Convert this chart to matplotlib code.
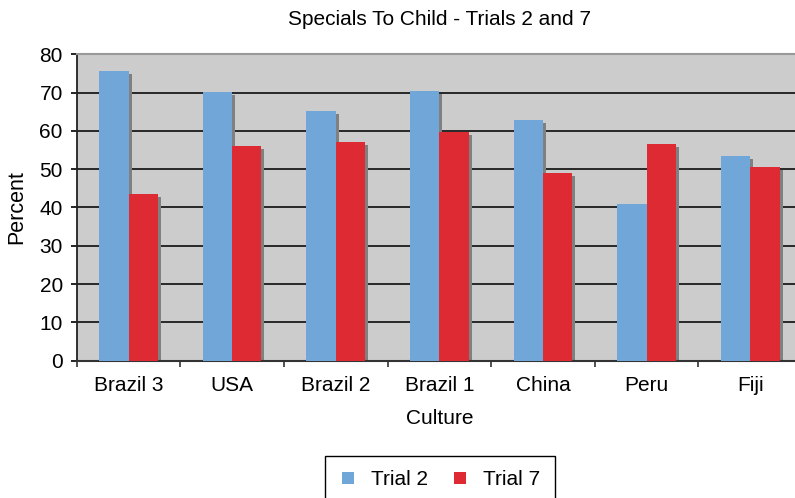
import matplotlib
matplotlib.use("Agg")
import matplotlib.pyplot as plt
import matplotlib.transforms as mtransforms
from matplotlib.lines import Line2D
import numpy as np

categories = ["Brazil 3", "USA", "Brazil 2", "Brazil 1", "China", "Peru", "Fiji"]
trial2 = [75.6, 70.1, 65.2, 70.4, 62.8, 40.9, 53.4]
trial7 = [43.5, 56.0, 57.1, 59.8, 49.0, 56.6, 50.6]
series_names = ["Trial 2", "Trial 7"]
yticks = [0, 10, 20, 30, 40, 50, 60, 70, 80]

plt.rcParams['font.family'] = ['Liberation Sans', 'DejaVu Sans']

W, H = 795, 498
fig = plt.figure(figsize=(W / 100, H / 100), dpi=100)
ax = fig.add_axes([76.7 / W, 1 - 360.7 / H, (802 - 76.7) / W, (360.7 - 54.3) / H])

blue = "#71A6D8"
red = "#DE2A32"
shadow = "#808080"
bw = 0.283
x = np.arange(len(categories))

shadow_tr = ax.transData + mtransforms.ScaledTranslation(3 / 100, -3 / 100, fig.dpi_scale_trans)
ax.bar(x - bw / 2, trial2, width=bw, color=shadow, transform=shadow_tr, zorder=2, linewidth=0)
ax.bar(x + bw / 2, trial7, width=bw, color=shadow, transform=shadow_tr, zorder=2, linewidth=0)
ax.bar(x - bw / 2, trial2, width=bw, color=blue, zorder=3, linewidth=0)
ax.bar(x + bw / 2, trial7, width=bw, color=red, zorder=3, linewidth=0)

ax.set_facecolor("#CCCCCC")
ax.set_xlim(-0.5, len(categories) - 0.5)
ax.set_ylim(0, 80)
ax.set_yticks(yticks)
ax.set_yticklabels([str(v) for v in yticks])
for v in yticks[1:-1]:
    ax.axhline(v, color="#1a1a1a", linewidth=1.3, zorder=1)

ax.set_xticks(x)
ax.set_xticklabels(categories)
ax.set_xticks(np.arange(len(categories) + 1) - 0.5, minor=True)
ax.tick_params(axis='x', which='major', length=0, pad=11, labelsize=15)
ax.tick_params(axis='x', which='minor', length=4, width=1.2, direction='out', color='#333333')
ax.tick_params(axis='y', length=4, width=1.2, direction='out', pad=6, labelsize=15)

ax.spines['right'].set_visible(False)
ax.spines['top'].set_color('#999999')
ax.spines['top'].set_linewidth(1.5)
ax.spines['left'].set_color('#222222')
ax.spines['left'].set_linewidth(1.3)
ax.spines['bottom'].set_color('#333333')
ax.spines['bottom'].set_linewidth(1.5)

ax.set_title("Specials To Child - Trials 2 and 7", fontsize=15, pad=21)
ax.set_ylabel("Percent", fontsize=15.5, labelpad=9)
fig.text((76.7 + 802) / 2 / W, 1 - 418 / H, "Culture", ha='center', va='center', fontsize=15)

handles = [Line2D([], [], linestyle='none', marker='s', markersize=9, color=blue, markeredgewidth=0),
           Line2D([], [], linestyle='none', marker='s', markersize=9, color=red, markeredgewidth=0)]
fig.legend(handles, series_names, loc='upper center', bbox_to_anchor=(439.7 / W, 1 - 456 / H),
           ncol=2, frameon=True, fancybox=False, edgecolor='black', framealpha=1,
           fontsize=15, borderpad=0.68, borderaxespad=0, handlelength=0.9,
           handletextpad=0.65, columnspacing=1.1)

fig.savefig("out.png", dpi=100)
